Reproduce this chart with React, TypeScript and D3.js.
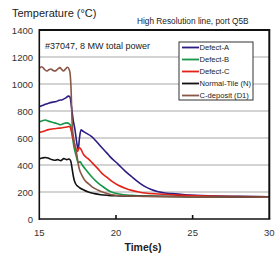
import React from "react";
import * as d3 from "d3";

const seriesNames = ["Defect-A", "Defect-B", "Defect-C", "Normal-Tile (N)", "C-deposit (D1)"];
const seriesColors = ["#2b1d84", "#17964a", "#e32219", "#111111", "#8a5646"];

const defectA: [number, number][] = [
  [15, 832], [15.3, 845], [15.6, 858], [15.9, 866], [16.1, 870], [16.3, 880], [16.5, 884], [16.7, 895],
  [16.9, 910], [17.0, 904], [17.1, 830], [17.2, 740], [17.33, 659], [17.45, 560], [17.54, 515],
  [17.62, 600], [17.72, 660], [17.85, 650], [18.0, 640], [18.42, 610], [18.8, 565], [19.07, 530],
  [19.4, 490], [19.61, 462], [20.15, 405], [20.6, 355], [21.03, 313], [21.5, 270], [21.9, 240],
  [22.3, 218], [22.76, 202], [23.2, 193], [23.64, 188], [24.5, 180], [26, 172], [28, 168], [30, 165],
];
const defectB: [number, number][] = [
  [15, 720], [15.2, 728], [15.4, 733], [15.6, 725], [15.8, 718], [16.0, 712], [16.2, 705], [16.4, 698],
  [16.6, 708], [16.8, 712], [16.95, 705], [17.05, 690], [17.15, 620], [17.25, 540], [17.4, 470],
  [17.55, 415], [17.65, 425], [17.8, 400], [18.0, 370], [18.4, 315], [18.8, 270], [19.2, 235],
  [19.6, 205], [20.0, 190], [20.5, 180], [21, 175], [22, 170], [25, 166], [30, 163],
];
const defectC: [number, number][] = [
  [15, 640], [15.3, 650], [15.6, 662], [15.9, 668], [16.2, 672], [16.5, 676], [16.8, 682], [16.95, 685],
  [17.05, 670], [17.15, 620], [17.33, 540], [17.5, 500], [17.6, 528], [17.7, 520], [17.87, 480],
  [18.2, 445], [18.42, 420], [18.8, 375], [19.07, 340], [19.4, 310], [19.72, 280], [20.15, 250],
  [20.6, 228], [21.03, 212], [21.5, 200], [21.9, 192], [22.76, 185], [24, 177], [26, 170], [30, 165],
];
const normalTile: [number, number][] = [
  [15, 445], [15.2, 452], [15.4, 456], [15.6, 450], [15.8, 440], [16.0, 435], [16.2, 440], [16.4, 432],
  [16.6, 447], [16.8, 440], [16.95, 445], [17.05, 430], [17.15, 365], [17.25, 300], [17.35, 265],
  [17.6, 235], [17.9, 215], [18.2, 200], [18.6, 188], [19.0, 180], [19.5, 175], [20, 172], [22, 168],
  [25, 165], [30, 162],
];
const cDeposit: [number, number][] = [
  [15, 1116], [15.16, 1128], [15.32, 1110], [15.48, 1096], [15.62, 1105], [15.76, 1111], [15.9, 1100],
  [16.02, 1096], [16.18, 1108], [16.35, 1121], [16.46, 1108], [16.57, 1096], [16.7, 1110],
  [16.83, 1124], [16.96, 1104], [17.03, 1050], [17.07, 968], [17.11, 822], [17.15, 690],
  [17.25, 590], [17.35, 530], [17.44, 480], [17.55, 400], [17.65, 355], [17.77, 325], [17.98, 285],
  [18.2, 262], [18.42, 240], [18.8, 215], [19.07, 202], [19.72, 180], [20.5, 172], [22, 167],
  [25, 164], [30, 162],
];
const seriesData = [defectA, defectB, defectC, normalTile, cDeposit];

const xTicks = [15, 20, 25, 30];
const yTicks = [0, 200, 400, 600, 800, 1000, 1200, 1400];

export default function App() {
  const W = 279, H = 260;
  const left = 39.3, right = 269.3, top = 30, bottom = 219;
  const x = d3.scaleLinear().domain([15, 30]).range([left, right]);
  const y = d3.scaleLinear().domain([0, 1400]).range([bottom, top]);
  const line = d3.line<[number, number]>().x((d) => x(d[0])).y((d) => y(d[1])).curve(d3.curveMonotoneX);
  const font = "Liberation Sans, Arial, sans-serif";
  const lx = 179, ly = 42;
  return (
    <svg width={W} height={H} style={{ position: "absolute", left: 0, top: 0 }} fontFamily={font}>
      <rect x={0} y={0} width={W} height={H} fill="#fff" />
      {yTicks.filter((t) => t > 0 && t < 1400).map((t) => (
        <line key={t} x1={left} x2={right} y1={y(t)} y2={y(t)} stroke="#a8a8a8" strokeWidth={1.2} />
      ))}
      {seriesData.map((d, i) => (
        <path key={i} d={line(d) || ""} fill="none" stroke={seriesColors[i]} strokeWidth={1.6} strokeLinejoin="round" />
      ))}
      <line x1={left} x2={right} y1={top} y2={top} stroke="#111" strokeWidth={2} />
      <line x1={right} x2={right} y1={top - 1} y2={bottom} stroke="#111" strokeWidth={2} />
      <line x1={left} x2={left} y1={top - 1} y2={bottom + 1} stroke="#111" strokeWidth={1.6} />
      <line x1={left} x2={right + 1} y1={bottom} y2={bottom} stroke="#111" strokeWidth={1.6} />
      {xTicks.filter((t) => t > 15 && t < 30).map((t) => (
        <line key={t} x1={x(t)} x2={x(t)} y1={bottom} y2={bottom - 4} stroke="#111" strokeWidth={1.6} />
      ))}
      {yTicks.map((t) => (
        <text key={t} x={33} y={y(t) + 3.5} fontSize={9.5} textAnchor="end" fill="#333">{t}</text>
      ))}
      {xTicks.map((t) => (
        <text key={t} x={x(t)} y={236} fontSize={9.5} textAnchor="middle" fill="#333">{t}</text>
      ))}
      <text x={143} y={251} fontSize={10.5} fontWeight="bold" textAnchor="middle" fill="#222">Time(s)</text>
      <text x={12} y={17} fontSize={11} fill="#222">Temperature (°C)</text>
      <text x={137} y={24} fontSize={8.3} fill="#222">High Resolution line, port Q5B</text>
      <text x={45} y={49} fontSize={9} fill="#222">#37047, 8 MW total power</text>
      <rect x={lx} y={ly} width={74} height={58} fill="#fff" stroke="#333" strokeWidth={1} />
      {seriesNames.map((n, i) => (
        <g key={n}>
          <line x1={lx + 3} x2={lx + 20} y1={ly + 5.5 + i * 12} y2={ly + 5.5 + i * 12} stroke={seriesColors[i]} strokeWidth={1.8} />
          <text x={lx + 20.5} y={ly + 8.3 + i * 12} fontSize={7.6} fill="#222">{n}</text>
        </g>
      ))}
    </svg>
  );
}
